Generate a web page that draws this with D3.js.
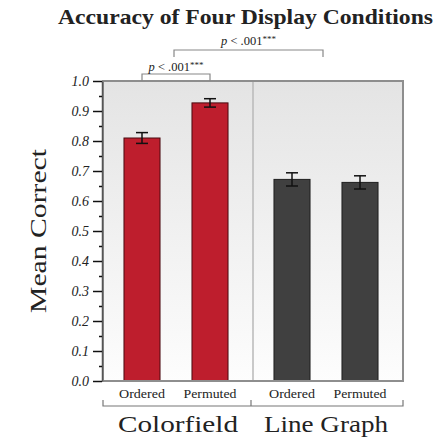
<!DOCTYPE html>
<html>
<head>
<meta charset="utf-8">
<script src="https://cdn.jsdelivr.net/npm/d3@7"></script>
<style>
  body { margin: 0; background: #fff; }
  text { font-family: "Liberation Serif", "Times New Roman", serif; fill: #222; }
</style>
</head>
<body>
<svg width="439" height="442"></svg>
<script>
// chart data
var groups = ["Colorfield", "Line Graph"];
var conditions = ["Ordered", "Permuted"];
var colorfieldMeans = [0.81, 0.927];
var lineGraphMeans = [0.672, 0.662];
var colorfieldErr = [0.018, 0.014];
var lineGraphErr = [0.022, 0.022];
var majorTicks = [0, 0.1, 0.2, 0.3, 0.4, 0.5, 0.6, 0.7, 0.8, 0.9, 1.0];
var minorTicks = [0.05, 0.15, 0.25, 0.35, 0.45, 0.55, 0.65, 0.75, 0.85, 0.95];
var groupColors = ["#be1e2d", "#404040"];
var groupStrokes = ["#4a0a10", "#1e1e1e"];
var pLabel = "p < .001";

var rows = [];
groups.forEach(function(g, i) {
  var m = i == 0 ? colorfieldMeans : lineGraphMeans;
  var e = i == 0 ? colorfieldErr : lineGraphErr;
  conditions.forEach(function(c, j) {
    rows.push({ group: g, gi: i, cond: c, mean: m[j], err: e[j] });
  });
});

var svg = d3.select("svg");

var x0 = d3.scaleBand().domain(groups).range([103, 403]);
var x1 = d3.scaleBand().domain(conditions)
    .range([5, 141]).paddingInner(0.47).paddingOuter(0.235);
var y = d3.scaleLinear().domain([0, 1]).range([381, 81]);

function barMid(g, c) { return x0(g) + x1(c) + x1.bandwidth() / 2; }
function groupMid(g) { return (barMid(g, conditions[0]) + barMid(g, conditions[1])) / 2; }

// plot background
var defs = svg.append("defs");
var grad = defs.append("linearGradient").attr("id", "bg")
    .attr("x1", 0).attr("y1", 0).attr("x2", 0).attr("y2", 1);
grad.append("stop").attr("offset", "0%").attr("stop-color", "#e4e4e4");
grad.append("stop").attr("offset", "100%").attr("stop-color", "#fdfdfd");

svg.append("rect")
    .attr("x", x0.range()[0]).attr("y", y(1))
    .attr("width", x0.range()[1] - x0.range()[0]).attr("height", y(0) - y(1))
    .attr("fill", "url(#bg)");

// panel divider
svg.append("line")
    .attr("x1", x0(groups[1])).attr("x2", x0(groups[1]))
    .attr("y1", y(1)).attr("y2", y(0))
    .attr("stroke", "#b8b8b8").attr("stroke-width", 1.5);

// bars
svg.selectAll(".bar").data(rows).enter().append("rect")
    .attr("class", "bar")
    .attr("x", function(d) { return x0(d.group) + x1(d.cond); })
    .attr("y", function(d) { return y(d.mean); })
    .attr("width", x1.bandwidth())
    .attr("height", function(d) { return y(0) - y(d.mean); })
    .attr("fill", function(d) { return groupColors[d.gi]; })
    .attr("stroke", function(d) { return groupStrokes[d.gi]; })
    .attr("stroke-width", 1);

// error bars
var eb = svg.selectAll(".err").data(rows).enter().append("g")
    .attr("stroke", "#111").attr("stroke-width", 1.5);
eb.append("line")
    .attr("x1", function(d) { return barMid(d.group, d.cond); })
    .attr("x2", function(d) { return barMid(d.group, d.cond); })
    .attr("y1", function(d) { return y(d.mean + d.err); })
    .attr("y2", function(d) { return y(d.mean - d.err); });
[1, -1].forEach(function(s) {
  eb.append("line")
      .attr("x1", function(d) { return barMid(d.group, d.cond) - 6; })
      .attr("x2", function(d) { return barMid(d.group, d.cond) + 6; })
      .attr("y1", function(d) { return y(d.mean + s * d.err); })
      .attr("y2", function(d) { return y(d.mean + s * d.err); });
});

// frame
svg.append("rect")
    .attr("x", x0.range()[0]).attr("y", y(1))
    .attr("width", x0.range()[1] - x0.range()[0]).attr("height", y(0) - y(1))
    .attr("fill", "none").attr("stroke", "#8e8e8e").attr("stroke-width", 2);

// y axis
var yAxis = svg.append("g").attr("transform", "translate(102,0)")
    .call(d3.axisLeft(y).tickValues(majorTicks).tickSize(9).tickSizeOuter(0)
      .tickPadding(4).tickFormat(d3.format(".1f")));
yAxis.select(".domain").attr("stroke", "#555").attr("stroke-width", 1.5);
yAxis.selectAll(".tick line").attr("stroke", "#111").attr("stroke-width", 1.5);
yAxis.selectAll(".tick text")
    .style("font-family", "'Liberation Serif', serif")
    .style("font-style", "italic").style("font-size", "14px").attr("fill", "#222");

var yMinor = svg.append("g").attr("transform", "translate(102,0)")
    .call(d3.axisLeft(y).tickValues(minorTicks).tickSize(3).tickFormat(""));
yMinor.select(".domain").remove();
yMinor.selectAll(".tick line").attr("stroke", "#111").attr("stroke-width", 1.5);

// category labels
svg.selectAll(".cat").data(rows).enter().append("text")
    .attr("x", function(d) { return barMid(d.group, d.cond); })
    .attr("y", 398)
    .attr("text-anchor", "middle")
    .style("font-size", "13px")
    .attr("textLength", function(d) { return d.cond == "Ordered" ? 46 : 53; })
    .attr("lengthAdjust", "spacingAndGlyphs")
    .text(function(d) { return d.cond; });

// group bracket under labels
var gb = svg.append("g").attr("fill", "none").attr("stroke", "#777").attr("stroke-width", 1.2);
gb.append("path").attr("d",
    "M" + x0.range()[0] + ",400V406H" + x0.range()[1] + "V400");
gb.append("line")
    .attr("x1", x0(groups[1]) - 2).attr("x2", x0(groups[1]) - 2)
    .attr("y1", 400).attr("y2", 406);

// group labels
svg.selectAll(".grp").data(groups).enter().append("text")
    .attr("x", function(d, i) { return groupMid(d) + (i == 0 ? 2 : 0); })
    .attr("y", 432)
    .attr("text-anchor", "middle")
    .style("font-size", "24px")
    .attr("textLength", function(d, i) { return i == 0 ? 120 : 124; })
    .attr("lengthAdjust", "spacingAndGlyphs")
    .text(function(d) { return d; });

// y title
svg.append("text")
    .attr("transform", "translate(46," + y(0.5) + ") rotate(-90)")
    .attr("text-anchor", "middle")
    .style("font-size", "24px")
    .attr("textLength", 164)
    .attr("lengthAdjust", "spacingAndGlyphs")
    .text("Mean Correct");

// chart title
svg.append("text")
    .attr("x", 245.5).attr("y", 24)
    .attr("text-anchor", "middle")
    .style("font-size", "21px").style("font-weight", "bold")
    .attr("textLength", 375)
    .attr("lengthAdjust", "spacingAndGlyphs")
    .text("Accuracy of Four Display Conditions");

// significance brackets
function sigBracket(xa, xb, yLine, yLeg, textY) {
  svg.append("path")
      .attr("d", "M" + xa + "," + yLeg + "V" + yLine + "H" + xb + "V" + yLeg)
      .attr("fill", "none").attr("stroke", "#888").attr("stroke-width", 1.2);
  var t = svg.append("text")
      .attr("x", (xa + xb) / 2).attr("y", textY)
      .attr("text-anchor", "middle")
      .style("font-size", "12.5px");
  t.append("tspan").style("font-style", "italic").text(pLabel.slice(0, 1));
  t.append("tspan").text(pLabel.slice(1));
  t.append("tspan").attr("dy", -3).style("font-size", "9px").text("***");
}
sigBracket(barMid(groups[0], conditions[0]), barMid(groups[0], conditions[1]), 74, y(1), 70.5);
sigBracket(groupMid(groups[0]) - 2, groupMid(groups[1]) - 3, 50, 57, 45);
</script>
</body>
</html>
